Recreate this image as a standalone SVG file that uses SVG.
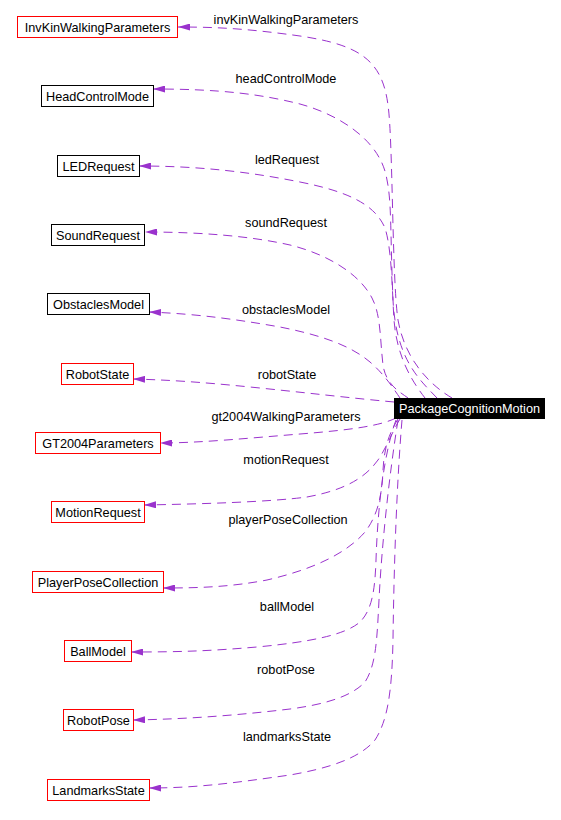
<svg xmlns="http://www.w3.org/2000/svg" width="561" height="820" viewBox="0 0 561 820">
<style>
text{font-family:"Liberation Sans",Arial,sans-serif;font-size:12.7px;fill:#000;text-anchor:middle}
.n rect{fill:#fff;stroke:#000;stroke-width:1}
.n.r rect{stroke:#ff0000}
.e path{fill:none;stroke:#9a32cd;stroke-width:1;stroke-dasharray:9,6}
</style>
<defs>
<marker id="arr" viewBox="0 0 12 7" refX="12" refY="3.5" markerWidth="12" markerHeight="7" markerUnits="userSpaceOnUse" orient="auto">
<path d="M0,0 L12,3.5 L0,7 z" fill="#9a32cd"/>
</marker>
</defs>
<rect width="561" height="820" fill="#fff"/>
<g id="edges" class="e">
<path marker-end="url(#arr)" d="M452,398 C430,385 405,360 398,320 C392,280 393,140 388,105 C382,60 360,45 300,36 C250,29 220,27 178,27"/>
<path marker-end="url(#arr)" d="M437,398 C420,380 396,360 393,300 C390,230 392,200 386,175 C378,140 340,115 300,104 C260,94 220,89 153,89"/>
<path marker-end="url(#arr)" d="M425,398 C415,385 397,360 394,320 C392,290 392,250 385,228 C375,205 350,192 300,182 C250,172 200,166 139,166"/>
<path marker-end="url(#arr)" d="M408,398 C400,392 386,385 383,365 C380,340 381,315 372,298 C360,275 330,255 290,245 C250,236 200,232 145,232"/>
<path marker-end="url(#arr)" d="M400,398 C393,388 385,375 370,362 C350,345 320,335 280,327 C240,320 200,314 149,312"/>
<path marker-end="url(#arr)" d="M394,402 C350,398 300,392 250,387 C200,382 170,380 133,379"/>
<path marker-end="url(#arr)" d="M396,418 C380,426 350,430 300,434 C250,438 200,443 160,443"/>
<path marker-end="url(#arr)" d="M400,419 C393,430 388,445 378,460 C365,478 345,490 307,497 C270,502 200,504 144,505"/>
<path marker-end="url(#arr)" d="M398,419 C388,435 384,450 383,470 C382,495 378,515 365,532 C345,555 310,570 267,580 C230,587 200,588 163,588"/>
<path marker-end="url(#arr)" d="M396,420 C385,450 378,500 376,560 C375,590 372,610 360,622 C345,635 310,642 257,647 C210,651 180,652 131,652"/>
<path marker-end="url(#arr)" d="M398,420 C390,470 382,540 379,600 C377,640 376,665 365,682 C350,698 320,705 290,709 C240,715 190,719 133,720"/>
<path marker-end="url(#arr)" d="M402,420 C397,480 394,560 393,640 C392,690 388,720 375,740 C360,758 330,768 290,775 C240,782 200,788 149,788"/>
</g>
<g id="edge-labels">
<text x="286" y="24">invKinWalkingParameters</text>
<text x="286" y="83">headControlMode</text>
<text x="287" y="164">ledRequest</text>
<text x="286" y="227">soundRequest</text>
<text x="286" y="314">obstaclesModel</text>
<text x="287" y="379">robotState</text>
<text x="286" y="421">gt2004WalkingParameters</text>
<text x="286" y="464">motionRequest</text>
<text x="288" y="524">playerPoseCollection</text>
<text x="287" y="611">ballModel</text>
<text x="286" y="674">robotPose</text>
<text x="287" y="741">landmarksState</text>
</g>
<g id="PackageCognitionMotion">
<rect x="394" y="398" width="151" height="21" fill="#000"/>
<text x="469.5" y="413" style="fill:#fff">PackageCognitionMotion</text>
</g>
<g id="InvKinWalkingParameters" class="n r"><rect x="17.5" y="16.5" width="160" height="21"/><text x="97.5" y="32">InvKinWalkingParameters</text></g>
<g id="HeadControlMode" class="n"><rect x="41.5" y="85.5" width="112" height="21"/><text x="97.5" y="101">HeadControlMode</text></g>
<g id="LEDRequest" class="n"><rect x="57.5" y="155.5" width="82" height="21"/><text x="98.5" y="171">LEDRequest</text></g>
<g id="SoundRequest" class="n"><rect x="51.5" y="224.5" width="93" height="21"/><text x="98" y="240">SoundRequest</text></g>
<g id="ObstaclesModel" class="n"><rect x="47.5" y="293.5" width="102" height="21"/><text x="98.5" y="309">ObstaclesModel</text></g>
<g id="RobotState" class="n r"><rect x="61.5" y="363.5" width="72" height="21"/><text x="97.5" y="379">RobotState</text></g>
<g id="GT2004Parameters" class="n r"><rect x="35.5" y="432.5" width="125" height="21"/><text x="98" y="448">GT2004Parameters</text></g>
<g id="MotionRequest" class="n r"><rect x="51.5" y="501.5" width="93" height="21"/><text x="98" y="517">MotionRequest</text></g>
<g id="PlayerPoseCollection" class="n r"><rect x="32.5" y="571.5" width="131" height="21"/><text x="98" y="587">PlayerPoseCollection</text></g>
<g id="BallModel" class="n r"><rect x="64.5" y="640.5" width="67" height="21"/><text x="98" y="656">BallModel</text></g>
<g id="RobotPose" class="n r"><rect x="63.5" y="709.5" width="70" height="21"/><text x="98.5" y="725">RobotPose</text></g>
<g id="LandmarksState" class="n r"><rect x="47.5" y="779.5" width="102" height="21"/><text x="98.5" y="795">LandmarksState</text></g>
</svg>
